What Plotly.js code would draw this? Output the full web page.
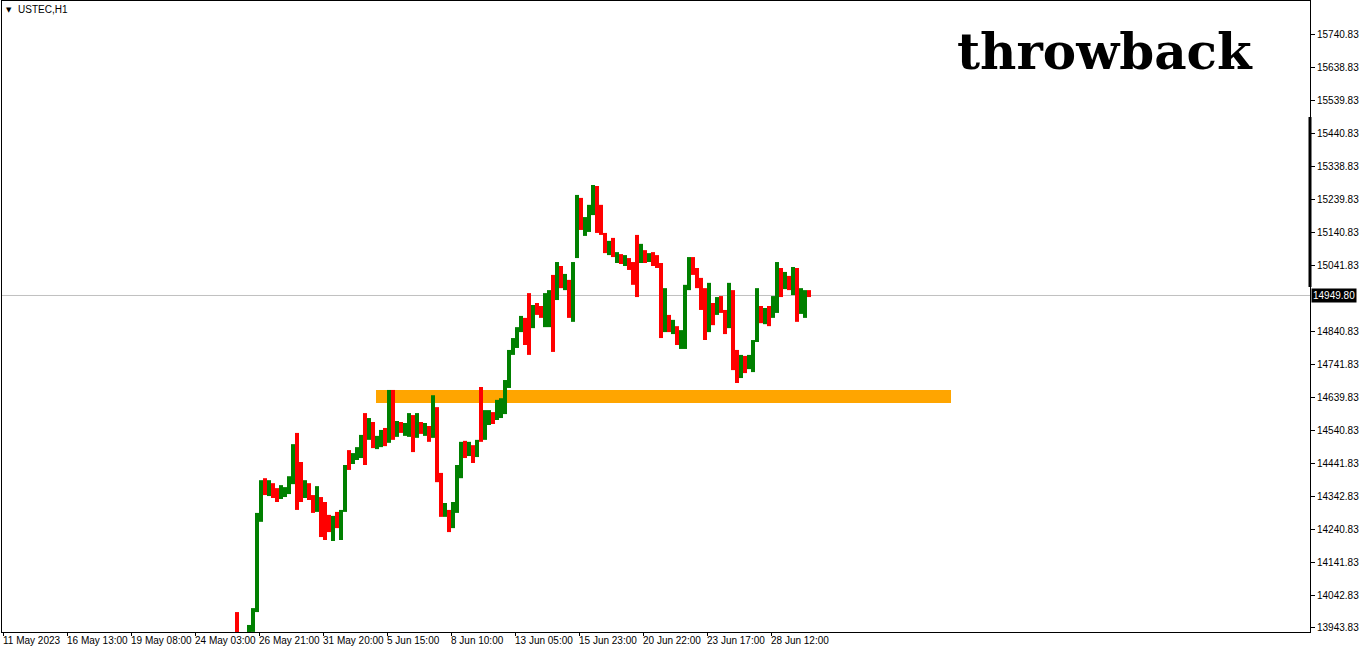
<!DOCTYPE html>
<html><head><meta charset="utf-8">
<script src="https://cdn.plot.ly/plotly-3.0.1.min.js"></script>
<style>html,body{margin:0;padding:0;background:#fff;overflow:hidden}#chart{width:1362px;height:652px}</style>
</head><body><div id="chart"></div>
<script>
// ---- data ----
const symbolLabel = "USTEC,H1";
const chartNote = "throwback";
const timeLabels = ["11 May 2023","16 May 13:00","19 May 08:00","24 May 03:00","26 May 21:00","31 May 20:00","5 Jun 15:00","8 Jun 10:00","13 Jun 05:00","15 Jun 23:00","20 Jun 22:00","23 Jun 17:00","28 Jun 12:00"];
const timeLabelBars = [0,64,128,192,256,320,384,448,512,576,640,704,768];
const priceTicks = [15740.83,15638.83,15539.83,15440.83,15338.83,15239.83,15140.83,15041.83,14840.83,14741.83,14639.83,14540.83,14441.83,14342.83,14240.83,14141.83,14042.83,13943.83];
const lastPrice = 14949.80;
const zoneBars = [373, 948];
const zonePrices = [14624.5, 14663.6];
const firstBar = 234;      // hour index of first aggregated bar
const barHours = 4;        // hours per aggregated bar

const opens = [13968,13880,13895,13926,13944,13998,14277,14385,14361,14373,
14355,14340,14355,14355,14385,14512,14422,14346,14376,14340,
14310,14331,14316,14277,14246,14286,14225,14301,14467,14452,
14461,14467,14579,14519,14558,14497,14507,14537,14513,14658,
14537,14561,14543,14537,14579,14528,14561,14543,14549,14525,
14603,14404,14295,14295,14258,14307,14416,14494,14473,14491,
14470,14549,14543,14573,14591,14579,14603,14603,14676,14785,
14800,14851,14870,14851,14860,14918,14912,14906,14882,14991,
14951,15027,14982,14991,14882,15072,15239,15154,15154,15208,
15269,15208,15130,15087,15112,15057,15069,15048,15057,15045,
15072,15051,15081,15057,15072,15063,15039,14851,14882,14845,
14851,14800,14800,14975,15057,15021,14991,14960,14851,14918,
14900,14942,14900,14860,14951,14754,14709,14754,14736,14730,
14815,14912,14876,14906,14888,14906,15021,14982,15000,14960,
15021,14906,14900,14963];
const highs = [13992,13905,13912,13953,14004,14292,14391,14397,14391,14382,
14367,14376,14370,14403,14500,14534,14446,14391,14382,14346,
14373,14340,14325,14286,14283,14295,14301,14437,14482,14473,
14491,14528,14594,14579,14567,14525,14543,14549,14664,14664,
14570,14567,14564,14594,14588,14594,14567,14564,14555,14648,
14612,14413,14322,14301,14325,14437,14507,14510,14507,14497,
14513,14673,14603,14603,14597,14634,14639,14694,14785,14821,
14854,14888,14882,14957,14921,14927,14918,14957,14966,15012,
15051,15039,15015,14997,15051,15254,15245,15187,15224,15284,
15281,15224,15139,15115,15124,15081,15075,15072,15063,15051,
15133,15106,15087,15078,15081,15072,15048,14972,14891,14876,
14857,14845,14982,15066,15066,15033,15003,14972,14988,14927,
14945,14948,14906,14988,14966,14785,14770,14767,14770,14815,
14972,14918,14912,14918,14948,15051,15033,15021,15009,15036,
15033,14972,14966,14966];
const lows = [13908,13860,13870,13920,13932,13992,14265,14346,14343,14337,
14325,14334,14340,14349,14379,14301,14325,14337,14331,14292,
14295,14219,14210,14234,14207,14246,14210,14295,14422,14440,
14452,14458,14437,14513,14488,14485,14491,14494,14504,14513,
14522,14534,14525,14522,14476,14519,14531,14525,14507,14519,
14385,14280,14280,14234,14246,14292,14397,14458,14464,14443,
14461,14507,14513,14558,14561,14573,14579,14591,14670,14770,
14791,14839,14800,14770,14851,14891,14882,14854,14854,14779,
14936,14972,14966,14882,14870,15063,15148,15130,15142,15193,
15139,15133,15078,15072,15066,15048,15045,15039,15027,14982,
14945,15048,15048,15051,15039,15033,14821,14839,14839,14833,
14800,14788,14788,14966,15012,14972,14906,14815,14839,14860,
14891,14897,14833,14851,14724,14685,14700,14715,14727,14718,
14809,14866,14863,14857,14882,14897,14945,14969,14966,14951,
14870,14894,14882,14945];
const closes = [13944,13895,13905,13944,13992,14271,14361,14361,14376,14349,
14337,14367,14364,14394,14482,14346,14361,14379,14340,14307,
14349,14255,14240,14246,14271,14265,14295,14422,14446,14464,
14482,14513,14482,14567,14507,14513,14531,14513,14648,14537,
14558,14543,14555,14582,14513,14573,14543,14552,14519,14603,
14407,14301,14307,14246,14313,14422,14488,14476,14494,14467,
14500,14525,14573,14594,14573,14618,14628,14679,14770,14809,
14845,14876,14821,14842,14906,14906,14891,14942,14948,14936,
15033,14991,15003,14900,15033,15239,15163,15172,15208,15254,
15193,15148,15093,15102,15081,15069,15051,15063,15036,15027,
15051,15087,15057,15072,15051,15042,14860,14906,14851,14860,
14815,14821,14960,15051,15021,14991,14936,14845,14966,14882,
14936,14912,14851,14966,14754,14709,14739,14730,14754,14800,
14951,14882,14900,14876,14936,15027,14982,15003,14975,15021,
14906,14951,14957,14949.80];

// ---- chart ----
const barX = opens.map((_, k) => firstBar + k * barHours);
const labelFont = {family: 'Liberation Sans, Arial, sans-serif', size: 10, color: '#000'};

const trace = {
  type: 'ohlc', x: barX, open: opens, high: highs, low: lows, close: closes,
  increasing: {line: {color: '#008000', width: 4}},
  decreasing: {line: {color: '#FF0000', width: 4}},
  tickwidth: 0, hoverinfo: 'skip', showlegend: false
};

const annotations = timeLabels.map((t, i) => ({
  text: t, x: timeLabelBars[i], xref: 'x', y: 0, yref: 'paper',
  xanchor: 'left', yanchor: 'top', xshift: -2, yshift: -1,
  showarrow: false, font: labelFont
}));
annotations.push({
  text: lastPrice.toFixed(2), x: 1, xref: 'paper', y: lastPrice, yref: 'y',
  xanchor: 'left', yanchor: 'middle', xshift: 1, showarrow: false,
  bgcolor: '#000', borderpad: 1, font: {family: labelFont.family, size: 10, color: '#fff'}
});
annotations.push({
  text: chartNote, x: 0.8433, xref: 'paper', y: 0.92, yref: 'paper',
  xanchor: 'center', yanchor: 'middle', showarrow: false,
  font: {family: 'DejaVu Serif, serif', size: 50, color: '#000', weight: 700}
});
annotations.push({
  text: '▼', x: 0, xref: 'paper', y: 1, yref: 'paper', xanchor: 'left', yanchor: 'top',
  xshift: 2, yshift: -3, showarrow: false, font: {family: 'DejaVu Sans', size: 7, color: '#000'}
});
annotations.push({
  text: symbolLabel, x: 0, xref: 'paper', y: 1, yref: 'paper', xanchor: 'left', yanchor: 'top',
  xshift: 14, yshift: -1, showarrow: false, font: labelFont
});

const layout = {
  width: 1362, height: 652,
  margin: {l: 2, r: 52, t: 1, b: 20, pad: 0},
  paper_bgcolor: '#fff', plot_bgcolor: '#fff', showlegend: false,
  xaxis: {
    range: [-1, 1307], rangeslider: {visible: false}, showgrid: false, zeroline: false,
    showline: true, mirror: true, linecolor: '#000', linewidth: 1,
    tickmode: 'array', tickvals: timeLabelBars, ticktext: timeLabels, showticklabels: false,
    ticks: 'outside', ticklen: 3, tickcolor: '#000', tickwidth: 1, fixedrange: true
  },
  yaxis: {
    side: 'right', range: [13931.7, 15840.7], showgrid: false, zeroline: false,
    showline: true, mirror: true, linecolor: '#000', linewidth: 1,
    tickmode: 'array', tickvals: priceTicks, ticktext: priceTicks.map(v => v.toFixed(2)),
    ticks: 'outside', ticklen: 4, tickcolor: '#000', tickwidth: 1, tickfont: labelFont, fixedrange: true
  },
  shapes: [
    {type: 'rect', xref: 'x', yref: 'y', x0: zoneBars[0], x1: zoneBars[1], y0: zonePrices[0], y1: zonePrices[1],
     fillcolor: '#FFA500', line: {width: 0}, layer: 'below'},
    {type: 'line', xref: 'paper', yref: 'y', x0: 0, x1: 1, y0: lastPrice, y1: lastPrice,
     line: {color: '#C0C0C0', width: 1}, layer: 'below'},
    {type: 'line', xref: 'paper', yref: 'y', x0: 1, x1: 1, xshift: 1, y0: 14975.4, y1: 15489.7,
     line: {color: '#000', width: 3}}
  ],
  annotations: annotations
};

Plotly.newPlot('chart', [trace], layout, {staticPlot: true, displayModeBar: false});
</script>
</body></html>
